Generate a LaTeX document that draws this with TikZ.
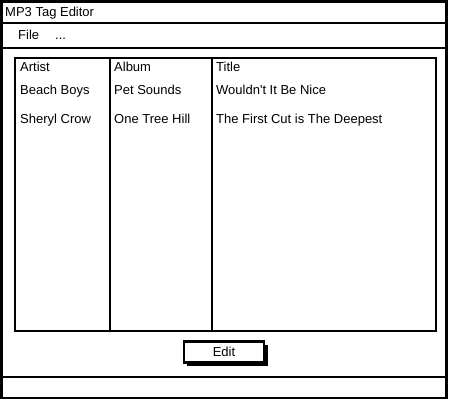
\documentclass[tikz,border=0pt]{standalone}
\usepackage{fontspec}
\setmainfont{Liberation Sans}
\begin{document}
\begin{tikzpicture}[x=1pt,y=-1pt,
  frame/.style={draw=black,line width=2.6pt},
  lbl/.style={anchor=base west,inner sep=0pt,font=\fontsize{13}{15}\selectfont},
  cell/.style={lbl}]
\useasboundingbox (0,0) rectangle (450,400);
% window
\draw[frame] (1.5,1.5) rectangle (446.5,398);
\draw[frame] (1.5,23) -- (446.5,23);
\draw[frame] (1.5,48) -- (446.5,48);
\draw[frame] (1.5,377) -- (446.5,377);
\node[lbl] (title) at (5,16.5) {MP3 Tag Editor};
\node[lbl] (file) at (18,39.5) {File};
\node[lbl] (more) at (55,39.5) {...};
% list box
\draw[frame] (15,58) rectangle (436,331);
\draw[frame] (110,58) -- (110,331);
\draw[frame] (212,58) -- (212,331);
\node[cell] (h1) at (20,71) {Artist};
\node[cell] (h2) at (114,71) {Album};
\node[cell] (h3) at (216,71) {Title};
\node[cell] (a1) at (20,94.5) {Beach Boys};
\node[cell] (b1) at (114,94.5) {Pet Sounds};
\node[cell] (c1) at (216,94.5) {Wouldn\textquotesingle t It Be Nice};
\node[cell] (a2) at (20,123.5) {Sheryl Crow};
\node[cell] (b2) at (114,123.5) {One Tree Hill};
\node[cell] (c2) at (216,123.5) {The First Cut is The Deepest};
% button
\fill[black] (187,345) rectangle (268,366);
\node[draw=black,line width=2.4pt,fill=white,minimum width=80pt,minimum height=21pt,inner sep=0pt] (edit) at (224,352) {};
\node[lbl,anchor=base] (edittxt) at (edit.center |- 0,356.5) {Edit};
\end{tikzpicture}
\end{document}
